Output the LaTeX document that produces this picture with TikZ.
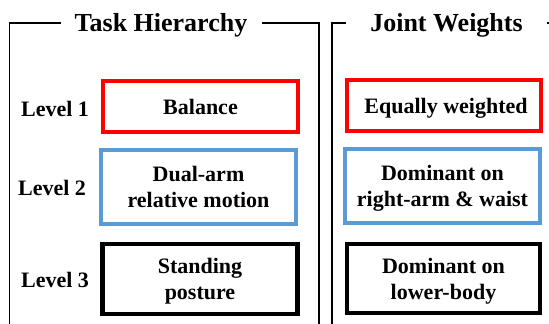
\documentclass[tikz,border=0pt]{standalone}
\usepackage{fontspec}
\setmainfont{Liberation Serif}
\definecolor{lvlred}{RGB}{255,0,0}
\definecolor{lvlblue}{RGB}{91,155,213}
% set a line with no depth, so text sits on the cap-height centre
\newcommand{\nodepth}[1]{\raisebox{0pt}[\height][0pt]{#1}}
\begin{document}
\begin{tikzpicture}[x=1pt,y=-1pt,
  frame/.style={line width=1.3pt},
  title/.style={font=\fontsize{26}{30}\selectfont\bfseries, inner sep=0pt},
  lvl/.style={font=\fontsize{22}{26}\selectfont\bfseries, inner sep=0pt},
  taskbox/.style={draw, line width=4pt, minimum width=195pt, align=center,
    font=\fontsize{22}{26}\selectfont\bfseries, inner sep=0pt},
  redbox/.style={taskbox, draw=lvlred, minimum height=51pt},
  bluebox/.style={taskbox, draw=lvlblue, line width=3.5pt, minimum height=74pt},
  blackbox/.style={taskbox, draw=black, line width=4.5pt, minimum height=70pt}]
\useasboundingbox (0,0) rectangle (549,324);

% frame corners
\coordinate (lb) at (9.5,330);
\coordinate (lt) at (9.5,23);
\coordinate (lg1) at (61,23);
\coordinate (lg2) at (262,23);
\coordinate (rt) at (319,23);
\coordinate (rb) at (319,330);
\coordinate (jb) at (332,330);
\coordinate (jt) at (332,23);
\coordinate (jg1) at (346,23);
\coordinate (jg2) at (547,23);
\coordinate (je) at (552,23);

\draw[frame] (lb) -- (lt) -- (lg1);
\draw[frame] (lg2) -- (rt) -- (rb);
\draw[frame] (jb) -- (jt) -- (jg1);
\draw[frame] (jg2) -- (je);

% titles
\node[title, anchor=base] (tth) at (161,31) {Task Hierarchy};
\node[title, anchor=base] (tjw) at (446.5,31) {Joint Weights};

% level labels
\node[lvl] (l1) at (55,108.5) {Level 1};
\node[lvl] (l2) at (52,188) {Level 2};
\node[lvl] (l3) at (55,280) {Level 3};

% task hierarchy boxes
\node[redbox] (t1) at (200.5,106.5) {\nodepth{Balance}};
\node[bluebox] (t2) at (198.5,187) {Dual-arm\\\nodepth{relative motion}};
\node[blackbox] (t3) at (200,279) {Standing\\\nodepth{posture}};

% joint weight boxes
\node[redbox, minimum width=194pt] (w1) at (444,105.5) {\nodepth{\hspace*{4pt}Equally weighted}};
\node[bluebox] (w2) at (442.5,186) {Dominant on\\\nodepth{right-arm \& waist}};
\node[blackbox, minimum width=193pt, minimum height=69pt] (w3) at (443.5,278.5) {Dominant on\\\nodepth{lower-body}};
\end{tikzpicture}
\end{document}
